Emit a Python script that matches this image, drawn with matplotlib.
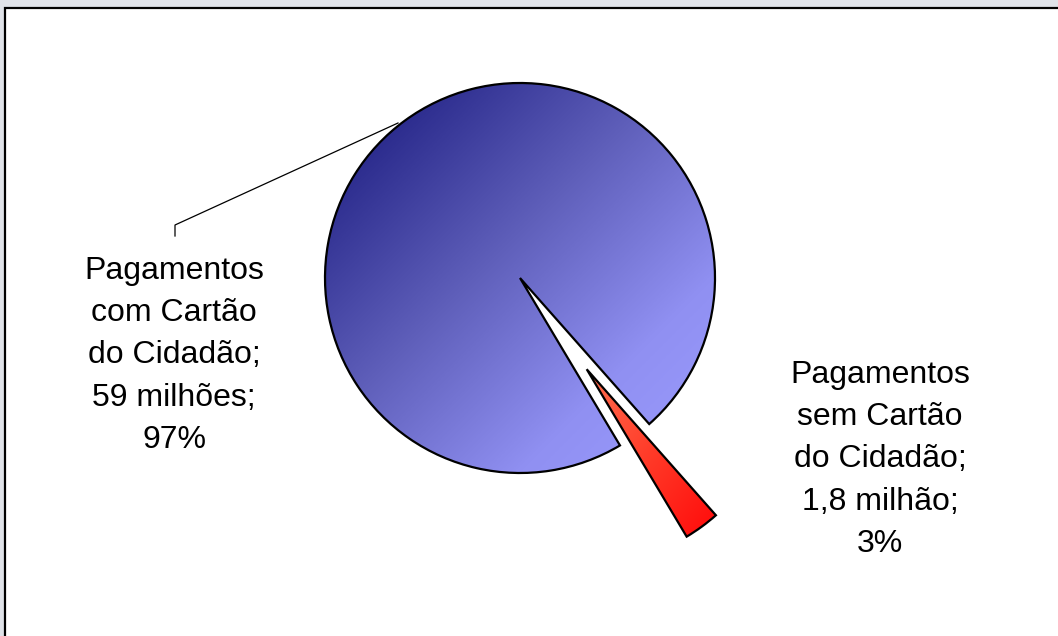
import numpy as np
import matplotlib
matplotlib.use("Agg")
import matplotlib.pyplot as plt
from matplotlib.patches import Rectangle
from matplotlib.colors import LinearSegmentedColormap

# ---- data ----
categories = ["Pagamentos com Cartão do Cidadão", "Pagamentos sem Cartão do Cidadão"]
values_millions = [59, 1.8]
value_labels = ["59 milhões", "1,8 milhão"]
percent_labels = ["97%", "3%"]

label_texts = [
    "Pagamentos\ncom Cartão\ndo Cidadão;\n59 milhões;\n97%",
    "Pagamentos\nsem Cartão\ndo Cidadão;\n1,8 milhão;\n3%",
]

W, H = 1058, 636
fig = plt.figure(figsize=(W / 100, H / 100), dpi=100)
fig.patch.set_facecolor("#dfe2e8")

ax = fig.add_axes([0, 0, 1, 1])
ax.set_xlim(0, W)
ax.set_ylim(0, H)
ax.set_aspect("equal")
ax.axis("off")
ax.patch.set_alpha(0)

# white chart area with black frame (extends past right/bottom edges)
ax.add_patch(Rectangle((5, -20), W + 40, H - 8 + 20, facecolor="white",
                       edgecolor="black", linewidth=1.6, zorder=0))

center = (520, H - 278)
radius = 195
explode = [0, 113]

wedges, _ = ax.pie(values_millions, startangle=-48.5, counterclock=True,
                   center=center, radius=radius, explode=explode,
                   wedgeprops=dict(facecolor="none", edgecolor="black", linewidth=1.6),
                   frame=False)
for w in wedges:
    w.set_zorder(3)

blue_cmap = LinearSegmentedColormap.from_list(
    "b", [(0.0, "#222282"), (0.13, "#2a2a8c"), (0.44, "#5f5fba"),
          (0.75, "#9090f2"), (1.0, "#9c9cff")])
red_cmap = LinearSegmentedColormap.from_list("r", ["#ff7050", "#ff3a28", "#ff0a0a"])

n = 300
yy, xx = np.mgrid[0:1:n * 1j, 0:1:n * 1j]
grad = (xx + yy) / 2.0

for w, cmap in zip(wedges, [blue_cmap, red_cmap]):
    ext = w.get_path().get_extents()
    im = ax.imshow(grad, cmap=cmap, extent=[ext.x0, ext.x1, ext.y0, ext.y1],
                   origin="upper", interpolation="bilinear", zorder=2, aspect="auto")
    im.set_clip_path(w)

ax.set_xlim(0, W)
ax.set_ylim(0, H)
ax.axis("off")

# leader line for left label
ax.plot([175, 175, 398], [H - 236, H - 225, H - 123], color="black", lw=0.9, zorder=4)

font = dict(family=["Liberation Sans", "DejaVu Sans"], fontsize=23)
ax.text(174, H - 256, label_texts[0], ha="center", va="top", linespacing=1.53, zorder=5, **font)
ax.text(880, H - 360, label_texts[1], ha="center", va="top", linespacing=1.53, zorder=5, **font)

fig.savefig("out.png", dpi=100, facecolor=fig.get_facecolor())
